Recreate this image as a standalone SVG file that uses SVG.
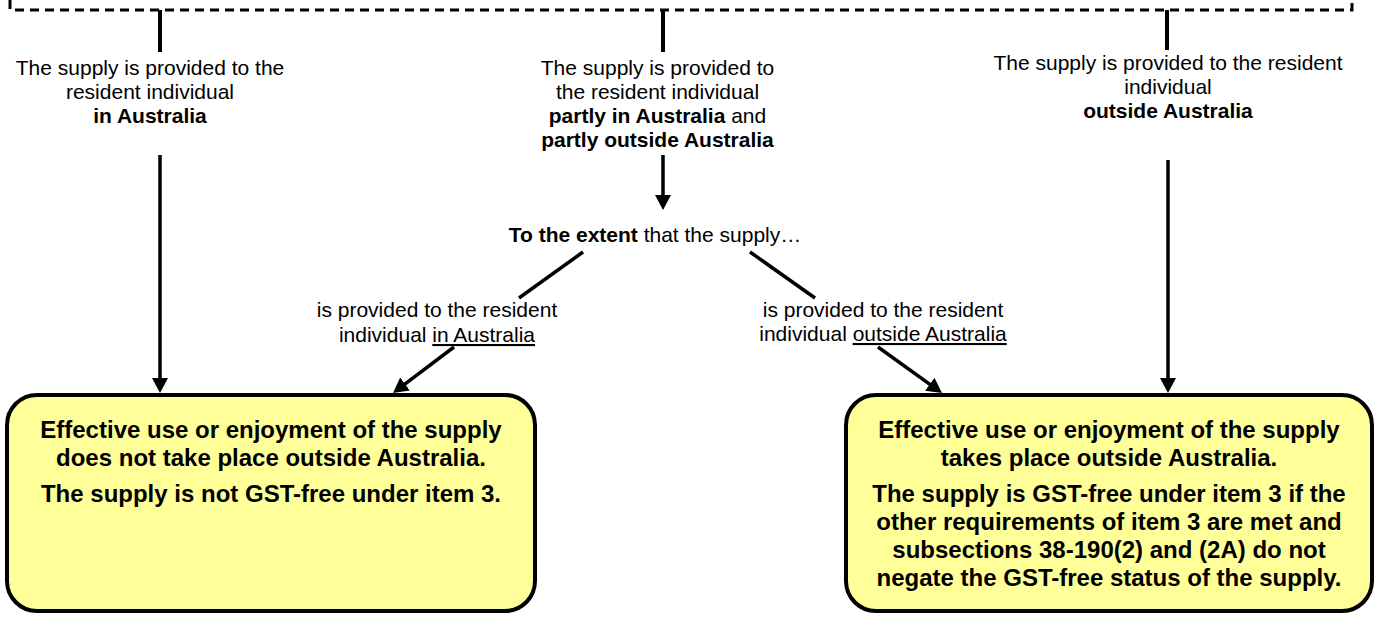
<svg xmlns="http://www.w3.org/2000/svg" width="1377" height="619" viewBox="0 0 1377 619">
<style>
  .t { font-family: "Liberation Sans", Arial, sans-serif; font-size: 21px; fill: #000; text-anchor: middle; }
  .b { font-weight: bold; }
  .bx { font-family: "Liberation Sans", Arial, sans-serif; font-size: 24px; font-weight: bold; fill: #000; text-anchor: middle; }
  .u { text-decoration: underline; }
  .box { fill: #FFFF99; stroke: #000; stroke-width: 4; }
  .ln { stroke: #000; stroke-width: 3.5; fill: none; }
  .stub { stroke: #000; stroke-width: 4; fill: none; }
  .dash { stroke: #000; stroke-width: 3; fill: none; stroke-dasharray: 9 6; }
</style>
<defs>
  <marker id="ah" markerUnits="userSpaceOnUse" markerWidth="17" markerHeight="18" viewBox="0 -9 17 18" refX="1" refY="0" orient="auto">
    <path d="M0,-8 L15,0 L0,8 Z" fill="#000"/>
  </marker>
</defs>
<rect width="1377" height="619" fill="#fff"/>

<g id="connectors">
  <path class="dash" d="M10,0 V10 H1352 V0"/>
  <line class="stub" x1="160" y1="10" x2="160" y2="52"/>
  <line class="stub" x1="663" y1="10" x2="663" y2="52"/>
  <line class="stub" x1="1167" y1="10" x2="1167" y2="50"/>
  <line class="ln" x1="160" y1="155" x2="160" y2="379" marker-end="url(#ah)"/>
  <line class="ln" x1="1168" y1="160" x2="1168" y2="379" marker-end="url(#ah)"/>
  <line class="ln" x1="663" y1="155" x2="663" y2="196" marker-end="url(#ah)"/>
  <line class="ln" x1="583" y1="252" x2="519" y2="298"/>
  <line class="ln" x1="454" y1="347" x2="404.2" y2="384.6" marker-end="url(#ah)"/>
  <line class="ln" x1="750" y1="252" x2="815" y2="298"/>
  <line class="ln" x1="878" y1="347" x2="930.6" y2="384.8" marker-end="url(#ah)"/>
</g>

<g id="node-in-australia">
  <text class="t" x="150" y="75">The supply is provided to the</text>
  <text class="t" x="150" y="99">resident individual</text>
  <text class="t b" x="150" y="123">in Australia</text>
</g>

<g id="node-partly">
  <text class="t" x="657.5" y="75">The supply is provided to</text>
  <text class="t" x="657.5" y="99">the resident individual</text>
  <text class="t" x="657.5" y="123"><tspan class="b">partly in Australia</tspan> and</text>
  <text class="t b" x="657.5" y="147">partly outside Australia</text>
</g>

<g id="node-outside">
  <text class="t" x="1168" y="70">The supply is provided to the resident</text>
  <text class="t" x="1168" y="94">individual</text>
  <text class="t b" x="1168" y="118">outside Australia</text>
</g>

<g id="node-extent">
  <text class="t" x="655" y="242"><tspan class="b">To the extent</tspan> that the supply…</text>
</g>

<g id="label-in">
  <text class="t" x="437" y="317">is provided to the resident</text>
  <text class="t" x="437" y="342">individual <tspan class="u">in Australia</tspan></text>
</g>

<g id="label-out">
  <text class="t" x="883" y="317">is provided to the resident</text>
  <text class="t" x="883" y="341">individual <tspan class="u">outside Australia</tspan></text>
</g>

<g id="box-not-free">
  <rect class="box" x="7" y="395" width="528" height="216" rx="30" ry="30"/>
  <text class="bx" x="271" y="438">Effective use or enjoyment of the supply</text>
  <text class="bx" x="271" y="466">does not take place outside Australia.</text>
  <text class="bx" x="271" y="502">The supply is not GST-free under item 3.</text>
</g>

<g id="box-free">
  <rect class="box" x="846" y="395" width="526" height="216" rx="30" ry="30"/>
  <text class="bx" x="1109" y="438">Effective use or enjoyment of the supply</text>
  <text class="bx" x="1109" y="466">takes place outside Australia.</text>
  <text class="bx" x="1109" y="502">The supply is GST-free under item 3 if the</text>
  <text class="bx" x="1109" y="530">other requirements of item 3 are met and</text>
  <text class="bx" x="1109" y="558">subsections 38-190(2) and (2A) do not</text>
  <text class="bx" x="1109" y="586">negate the GST-free status of the supply.</text>
</g>
</svg>
